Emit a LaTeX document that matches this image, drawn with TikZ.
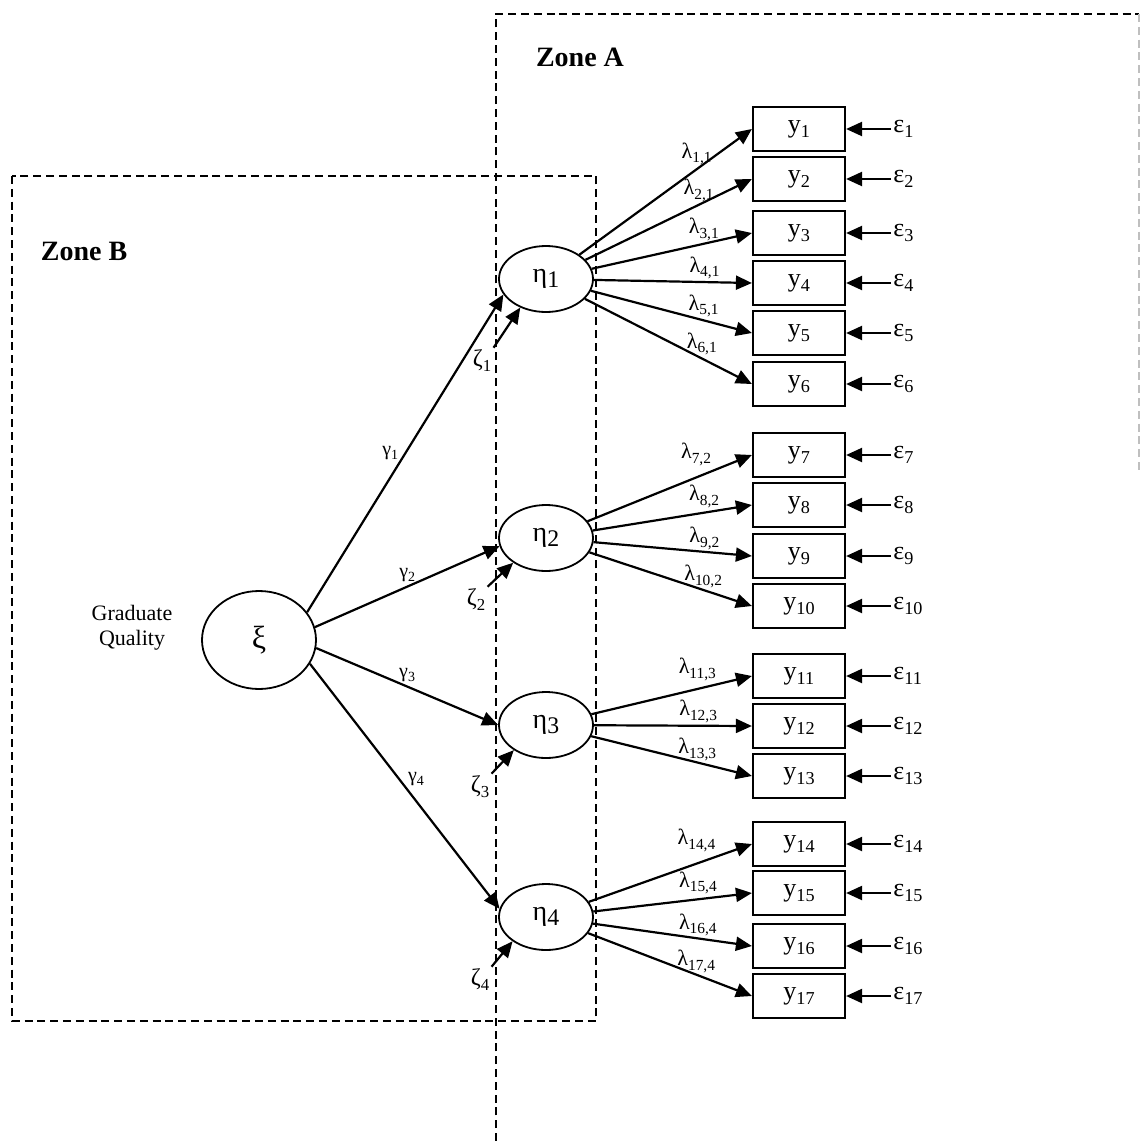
\documentclass[tikz,border=0pt]{standalone}
\usepackage{fontspec}
\setmainfont{Liberation Serif}
\usetikzlibrary{shapes.geometric,arrows.meta}
\newcommand\sbx[1]{\raisebox{-0.45ex}{\scalebox{0.7}{#1}}}
\begin{document}
\begin{tikzpicture}[x=0.5pt,y=-0.5pt,
  zone/.style={line width=0.9pt, dash pattern=on 4pt off 2.4pt},
  latent/.style={ellipse, draw, fill=white, line width=0.9pt, inner sep=0pt},
  obs/.style={rectangle, draw, fill=white, line width=1.1pt, minimum width=46pt, minimum height=22pt, inner sep=0pt, font=\fontsize{13}{13}\selectfont},
  arr/.style={line width=1.1pt, -{Triangle[length=8pt,width=7pt]}},
  lam/.style={font=\fontsize{11}{11}\selectfont, inner sep=0.5pt},
  gam/.style={font=\fontsize{10}{10}\selectfont, inner sep=1pt},
  zet/.style={font=\fontsize{12}{12}\selectfont, inner sep=1pt},
  eps/.style={font=\fontsize{13}{13}\selectfont, anchor=west, inner sep=1pt},
  zonelabel/.style={font=\fontsize{14}{14}\selectfont\bfseries},
]
\useasboundingbox (0,0) rectangle (1140,1141);

% zones
\draw[zone] (12,176) rectangle (596,1021);
\draw[zone] (496,1141) -- (496,14) -- (1139,14);
\draw[zone, black!25] (1139,14) -- (1139,470);
\node[zonelabel] (zoneA) at (580,57) {Zone A};
\node[zonelabel] (zoneB) at (84,251) {Zone B};

% latent variables
\node[latent, minimum width=57pt, minimum height=49pt, font=\fontsize{16}{16}\selectfont] (xi) at (259,640) {ξ};
\node[align=center, font=\fontsize{11}{12.5}\selectfont] (gq) at (132,628) {Graduate\\Quality};
\foreach \k/\yy in {1/279, 2/538, 3/725, 4/917}
  \node[latent, minimum width=47pt, minimum height=33pt, font=\fontsize{14}{14}\selectfont] (eta\k) at (546,\yy) {η\raisebox{-0.4ex}{\scalebox{0.85}{\k}}};

% observed variables and errors
\foreach \i/\yy in {1/129, 2/179, 3/233, 4/283, 5/333, 6/384, 7/455, 8/505, 9/556, 10/606, 11/676, 12/726, 13/776, 14/844, 15/893, 16/946, 17/996}{
  \node[obs] (y\i) at (799,\yy) {y\sbx{\i}};
  \node[eps] (e\i) at (891,\yy) {ε\sbx{\i}};
  \draw[arr] (e\i.west) -- (y\i.east);
}

% structural paths
\draw[arr] (xi.30) -- (eta1.200) node[gam, pos=0.5, left=2pt] {γ\sbx{1}};
\draw[arr] (xi.13) -- (eta2.190) node[gam, pos=0.5, above=1pt] {γ\sbx{2}};
\draw[arr] (xi.-8) -- (eta3.west) node[gam, pos=0.5, above=1pt] {γ\sbx{3}};
\draw[arr] (xi.-25) -- (eta4.170) node[gam, pos=0.47, right=3pt] {γ\sbx{4}};

% disturbances
\foreach \k/\xx/\yy/\ang in {1/482/361/228, 2/476/600/217, 3/480/787/218, 4/480/980/216}{
  \node[zet] (z\k) at (\xx,\yy) {ζ\sbx{\k}};
  \draw[arr] (z\k.north east) -- (eta\k.\ang);
}

% loadings
\foreach \i/\e/\p/\o in {1/1/0.68/1pt, 2/1/0.68/0.5pt, 3/1/0.7/0.5pt, 4/1/0.7/0.5pt, 5/1/0.7/0.5pt, 6/1/0.7/0.5pt,
  7/2/0.66/5pt, 8/2/0.7/1.5pt, 9/2/0.7/0pt, 10/2/0.7/0pt,
  11/3/0.66/3pt, 12/3/0.66/0.5pt, 13/3/0.66/0pt,
  14/4/0.66/5pt, 15/4/0.66/1.5pt, 16/4/0.66/0pt, 17/4/0.66/0pt}
  \draw[arr] (eta\e) -- (y\i.west) node[lam, pos=\p, above=\o] {λ\sbx{\i,\e}};
\end{tikzpicture}
\end{document}
